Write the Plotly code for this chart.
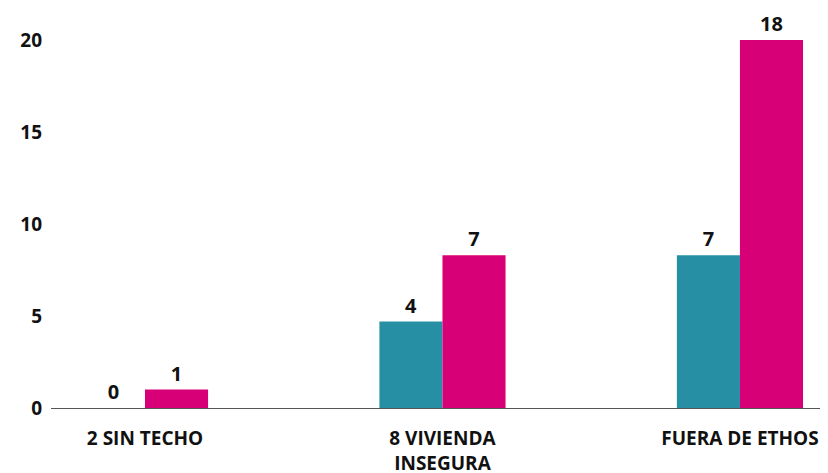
import plotly.graph_objects as go

categories = ["2 SIN TECHO", "8 VIVIENDA<br>INSEGURA", "FUERA DE ETHOS"]
teal_values = [0, 4.7, 8.3]
teal_labels = ["0", "4", "7"]
magenta_values = [1, 8.3, 20.0]
magenta_labels = ["1", "7", "18"]
y_ticks = [0, 5, 10, 15, 20]

FONT = "Open Sans"

fig = go.Figure()

fig.add_trace(go.Bar(
    x=categories, y=teal_values, text=teal_labels,
    marker_color="#268FA3", name="A",
))
fig.add_trace(go.Bar(
    x=categories, y=magenta_values, text=magenta_labels,
    marker_color="#D80077", name="B",
))

fig.update_traces(
    textposition="outside", cliponaxis=False, constraintext="none",
    textfont=dict(family=FONT, size=20, color="#111111", weight="bold"),
    marker_line_width=0,
)

# page body adds an 8px offset, so margins are shifted to compensate
fig.update_layout(
    width=828, height=473,
    margin=dict(l=43, r=8, t=2, b=73),
    paper_bgcolor="white", plot_bgcolor="white",
    showlegend=False,
    barmode="group", bargap=0.576, bargroupgap=0,
    font=dict(family=FONT, color="#111111"),
    xaxis=dict(
        range=[-0.316, 2.296], showline=True, linecolor="#555555", linewidth=1,
        ticks="", automargin=False, ticklabelstandoff=13,
        tickfont=dict(size=19, family=FONT, weight="bold"),
        showgrid=False,
    ),
    yaxis=dict(
        range=[0, 21.63], tickvals=y_ticks, showgrid=False, zeroline=False,
        showline=False, ticks="", ticklabelstandoff=8, automargin=False,
        tickfont=dict(size=19, family=FONT, weight="bold"),
    ),
)

fig.write_html("out.html")
